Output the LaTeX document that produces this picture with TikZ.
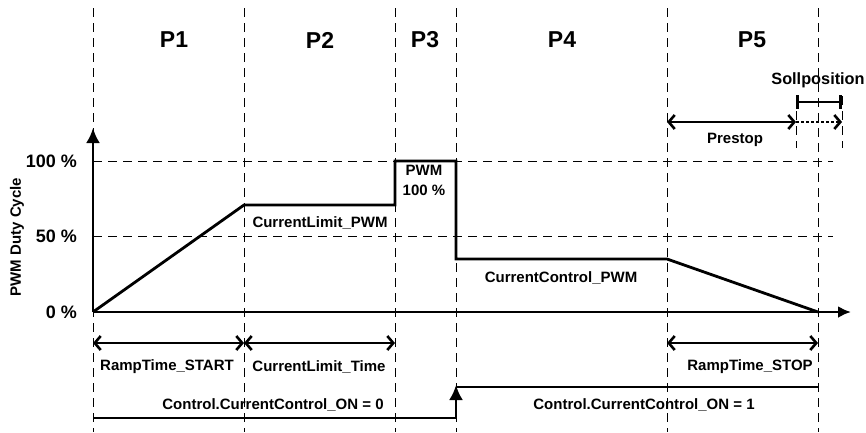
\documentclass[tikz,border=0pt]{standalone}
\usepackage{fontspec}
\setmainfont{Liberation Sans}
\usetikzlibrary{arrows.meta}
\usetikzlibrary{calc,positioning}
\tikzset{%
  >={Latex[width=14pt,length=15pt]},
  % Specifications for style of lines and texts:
  guide/.style = {line width=0.9pt, dash pattern=on 9pt off 6pt},
  pwmline/.style = {line width=2.8pt, line join=miter},
  span/.style = {line width=2.6pt,
    {Straight Barb[length=6pt,width=14pt]}-{Straight Barb[length=6pt,width=14pt]}},
  lbl/.style = {font=\fontsize{15}{20}\selectfont\bfseries, inner sep=1pt, align=center},
  ticklbl/.style = {lbl, font=\fontsize{18}{20}\selectfont\bfseries, anchor=east},
  phase/.style = {font=\fontsize{23}{26}\selectfont\bfseries, inner sep=1pt},
}

\begin{document}
\begin{tikzpicture}[x=1pt,y=-1pt]
        \useasboundingbox (0,0) rectangle (866,432);
        % Phase borders
        \foreach \px in {93,244,395,456,667,818}
          \draw[guide] (\px,8) -- (\px,432);
        \draw[guide] (93,161) -- (833,161);
        \draw[guide] (93,236) -- (833,236);
        \draw[guide] (796,96) -- (796,148);
        \draw[guide] (842,96) -- (842,148);
        % Specification of points of the PWM curve
        \coordinate (o) at (93,312);
        \coordinate (a) at (244,205);
        \coordinate (b) at (395,205);
        \coordinate (c) at (395,161);
        \coordinate (d) at (456,161);
        \coordinate (e) at (456,259);
        \coordinate (f) at (667,259);
        \coordinate (g) at (818,312);
        \coordinate (ytop) at (93,128);
        \coordinate (xend) at (851,312);
        % Axes and labels
        \draw[pwmline,->] (o) -- (ytop);
        \draw[pwmline,-{Latex[width=12pt,length=13pt]}] (o) -- (xend);
        \node(y100)[ticklbl] at (78,161) {100 \%};
        \node(y50)[ticklbl] at (78,236) {50 \%};
        \node(y0)[ticklbl] at (78,312) {0 \%};
        \node(ylab)[lbl,rotate=90] at (17,237) {PWM Duty Cycle};
        \draw[pwmline] (o) -- (a) -- (b) -- (c) -- (d) -- (e) -- (f) -- (g);
        % Phase names
        \node(P1)[phase] at (174,40) {P1};
        \node(P2)[phase] at (320,40) {P2};
        \node(P3)[phase] at (425,40) {P3};
        \node(P4)[phase] at (562,40) {P4};
        \node(P5)[phase] at (752,40) {P5};
        \node(climpwm)[lbl] at (320,223) {CurrentLimit\_PWM};
        \node(full)[lbl] at (424,180) {PWM\\100 \%};
        \node(cctrlpwm)[lbl] at (561,278) {CurrentControl\_PWM};
        % Times
        \coordinate (t0) at (93,343);
        \coordinate (t1) at (244,343);
        \coordinate (t2) at (395,343);
        \coordinate (t4) at (667,343);
        \coordinate (t5) at (818,343);
        \draw[span] (t0) -- (t1);
        \draw[span] (t1) -- (t2);
        \draw[span] (t4) -- (t5);
        \node(rstart)[lbl] at (167,367) {RampTime\_START};
        \node(climtime)[lbl] at (319,367) {CurrentLimit\_Time};
        \node(rstop)[lbl] at (750,367) {RampTime\_STOP};
        % Control flag
        \coordinate (c0) at (93,418);
        \coordinate (c1) at (456,418);
        \coordinate (c2) at (456,385);
        \coordinate (c3) at (818,387);
        \draw[pwmline,->] (c0) -- (c1) -- (c2);
        \draw[pwmline] (c2 |- c3) -- (c3);
        \node(off)[lbl] at (273,405) {Control.CurrentControl\_ON = 0};
        \node(on)[lbl] at (644,405) {Control.CurrentControl\_ON = 1};
        % Prestop and Sollposition
        \coordinate (p0) at (667,122);
        \coordinate (p1) at (796,122);
        \coordinate (p2) at (842,122);
        \coordinate (s0) at (796,102);
        \coordinate (s1) at (842,102);
        \draw[span] (p0) -- (p1);
        \draw[line width=2.6pt, dash pattern=on 3pt off 2pt,
          -{Straight Barb[length=6pt,width=14pt]}] (p1) -- (p2);
        \draw[line width=2.6pt,{Bar[width=14pt]}-{Bar[width=14pt]}] (s0) -- (s1);
        \node(prestop)[lbl] at (735,140) {Prestop};
        \node(soll)[lbl,font=\fontsize{16.3}{20}\selectfont\bfseries] at (818,80) {Sollposition};
    \end{tikzpicture}
\end{document}
